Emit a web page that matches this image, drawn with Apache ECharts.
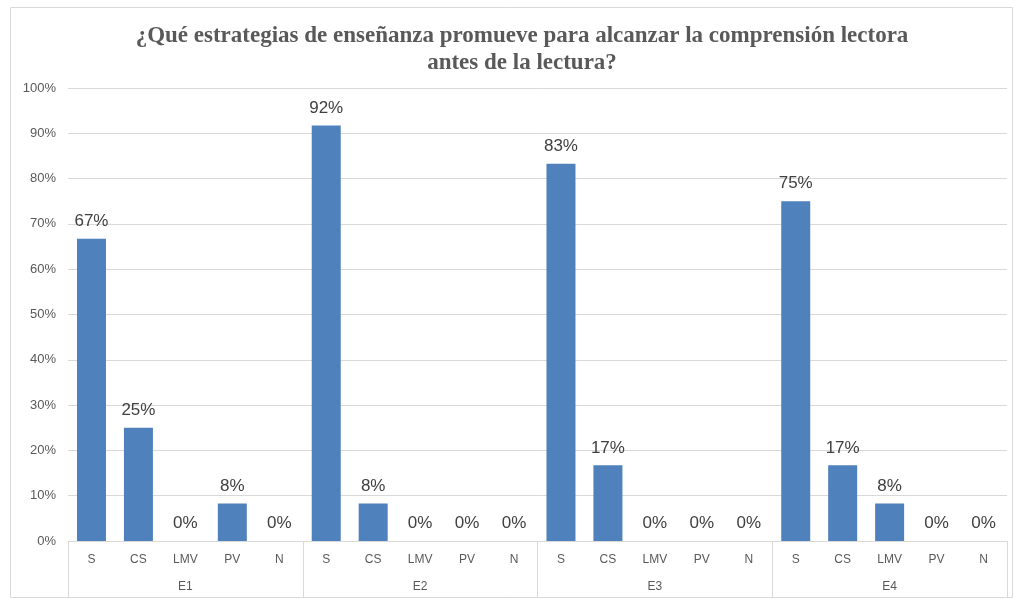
<!DOCTYPE html>
<html>
<head>
<meta charset="utf-8">
<script src="https://cdn.jsdelivr.net/npm/echarts@6/dist/echarts.min.js"></script>
<style>
  html, body { margin: 0; padding: 0; background: #fff; }
  #chart { width: 1014px; height: 599px; }
</style>
</head>
<body>
<div id="chart"></div>
<script>
  // data
  var groups = ['E1', 'E2', 'E3', 'E4']
  var subCats = ['S', 'CS', 'LMV', 'PV', 'N']
  var e1 = [66.7, 25.0, 0, 8.3, 0]
  var e2 = [91.7, 8.3, 0, 0, 0]
  var e3 = [83.3, 16.7, 0, 0, 0]
  var e4 = [75.0, 16.7, 8.3, 0, 0]
  var yTicks = [0, 10, 20, 30, 40, 50, 60, 70, 80, 90, 100]

  var cats = []
  var values = []
  var all = [e1, e2, e3, e4]
  for (var g = 0; g < groups.length; g++) {
    for (var k = 0; k < subCats.length; k++) {
      cats.push(subCats[k])
      values.push(all[g][k])
    }
  }

  var chart = echarts.init(document.getElementById('chart'))
  var option = {
    animation: false,
    title: {
      text: '¿Qué estrategias de enseñanza promueve para alcanzar la comprensión lectora\nantes de la lectura?',
      left: 517,
      textAlign: 'center',
      top: 18,
      textStyle: {
        fontFamily: 'Liberation Serif',
        fontWeight: 'bold',
        fontSize: 23,
        lineHeight: 27,
        color: '#595959'
      }
    },
    graphic: [{
      type: 'rect',
      shape: { x: 10.5, y: 7.5, width: 1002, height: 590 },
      style: { fill: 'none', stroke: '#d9d9d9', lineWidth: 1 },
      silent: true
    }],
    grid: { left: 68, right: 7, top: 88, bottom: 58 },
    xAxis: [{
      type: 'category',
      data: cats,
      axisLine: { lineStyle: { color: '#d9d9d9' } },
      axisTick: { show: false },
      axisLabel: { interval: 0, margin: 13, color: '#595959', fontSize: 12, fontFamily: 'Liberation Sans' }
    }, {
      type: 'category',
      data: groups,
      position: 'bottom',
      axisLine: { show: false },
      axisTick: { show: true, length: 56, lineStyle: { color: '#d9d9d9' } },
      axisLabel: { interval: 0, margin: 40, color: '#595959', fontSize: 12, fontFamily: 'Liberation Sans' }
    }],
    yAxis: {
      type: 'value',
      min: yTicks[0],
      max: yTicks[yTicks.length - 1],
      interval: 10,
      axisLine: { show: false },
      axisTick: { show: false },
      splitLine: { lineStyle: { color: '#d9d9d9' } },
      axisLabel: {
        formatter: '{value}%',
        margin: 12,
        color: '#595959',
        fontSize: 13,
        fontFamily: 'Liberation Sans'
      }
    },
    series: [{
      type: 'bar',
      data: values,
      barWidth: 29,
      itemStyle: { color: '#4f81bd' },
      label: {
        show: true,
        position: 'top',
        distance: 9,
        color: '#404040',
        fontSize: 17,
        fontFamily: 'Liberation Sans',
        formatter: function (p) { return Math.round(p.value) + '%' }
      }
    }]
  }
  chart.setOption(option)
</script>
</body>
</html>
